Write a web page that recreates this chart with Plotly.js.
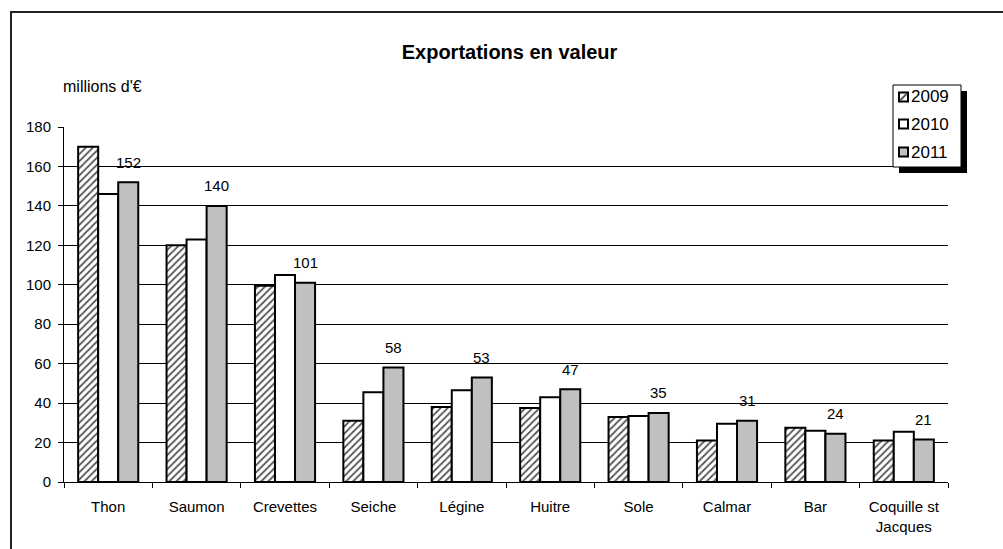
<!DOCTYPE html>
<html>
<head>
<meta charset="utf-8">
<script src="https://cdn.plot.ly/plotly-3.0.1.min.js"></script>
<style>
html,body{margin:0;padding:0;background:#fff;}
#wrap{position:relative;width:1003px;height:549px;overflow:hidden;}
#chart{position:absolute;left:0;top:0;width:1003px;height:549px;}
#frame{position:absolute;left:10px;top:11px;width:1100px;height:700px;border-left:2px solid #222;border-top:2px solid #222;pointer-events:none;}
</style>
</head>
<body>
<div id="wrap"><div id="chart"></div><div id="frame"></div></div>
<script>
const categories = ["Thon","Saumon","Crevettes","Seiche","Légine","Huitre","Sole","Calmar","Bar","Coquille st<br>Jacques"];
const years = ["2009","2010","2011"];
const v2009 = [170, 120, 99.5, 31, 38, 37.5, 33, 21, 27.5, 21];
const v2010 = [146, 123, 105, 45.5, 46.5, 43, 33.5, 29.5, 26, 25.5];
const v2011 = [152, 140, 101, 58, 53, 47, 35, 31, 24.5, 21.5];
const labels2011 = ["152","140","101","58","53","47","35","31","24","21"];
const yTicks = [0,20,40,60,80,100,120,140,160,180];

const FONT = "Liberation Sans, Arial, sans-serif";
const M = {l:64, r:55, t:127, b:67};
const W = 1003, H = 549;
const pw = W - M.l - M.r, ph = H - M.t - M.b;
const px = x => (x - M.l) / pw;
const py = y => (H - M.b - y) / ph;

const line = {color:"#000", width:2};
const traces = [
  {type:"bar", name:years[0], x:categories, y:v2009,
   marker:{color:"#ffffff", line:line, pattern:{shape:"/", fgcolor:"#555", bgcolor:"#fff", size:5, solidity:0.35}}},
  {type:"bar", name:years[1], x:categories, y:v2010,
   marker:{color:"#ffffff", line:line}},
  {type:"bar", name:years[2], x:categories, y:v2011,
   marker:{color:"#c0c0c0", line:line}}
];

const annotations = categories.map((c,i) => ({
  x:c, y:v2011[i], xref:"x", yref:"y", text:labels2011[i], showarrow:false,
  xshift:20, yshift:20, yanchor:"middle", font:{family:FONT, size:15, color:"#000"}
}));
annotations.push({xref:"paper", yref:"paper", x:px(61), y:py(87), xanchor:"left", yanchor:"middle",
  text:"millions d'€", showarrow:false, font:{family:FONT, size:16, color:"#000"}});

// custom legend
const shapes = [];
const lgL = 893, lgT = 85, lgR = 961, lgB = 167, sh = 6;
shapes.push({type:"rect", xref:"paper", yref:"paper", x0:px(lgL+sh), x1:px(lgR+sh), y0:py(lgB+sh), y1:py(lgT+sh), fillcolor:"#000", line:{width:0}, layer:"above"});
shapes.push({type:"rect", xref:"paper", yref:"paper", x0:px(lgL), x1:px(lgR), y0:py(lgB), y1:py(lgT), fillcolor:"#fff", line:{color:"#000", width:1}, layer:"above"});
const rowsY = [97, 124, 152];
const swFill = ["#777", "#fff", "#c0c0c0"];
years.forEach((yr,i) => {
  const cy = rowsY[i];
  shapes.push({type:"rect", xref:"paper", yref:"paper", x0:px(899), x1:px(908), y0:py(cy+4.5), y1:py(cy-4.5),
    fillcolor: i===0 ? "#fff" : swFill[i], line:{color:"#000", width:2}, layer:"above"});
  if (i===0) {
    shapes.push({type:"line", xref:"paper", yref:"paper", x0:px(900), x1:px(907), y0:py(cy+3.5), y1:py(cy-3.5), line:{color:"#555", width:2}, layer:"above"});
  }
  annotations.push({xref:"paper", yref:"paper", x:px(909), y:py(cy), xanchor:"left", yanchor:"middle",
    text:yr, showarrow:false, font:{family:FONT, size:17, color:"#000"}});
});

const layout = {
  width:W, height:H, margin:M,
  paper_bgcolor:"#fff", plot_bgcolor:"#fff",
  showlegend:false,
  barmode:"group", bargap:0.32, bargroupgap:0,
  title:{text:"<b>Exportations en valeur</b>", x:0.508, xanchor:"center", y:1-52/H, yanchor:"middle",
    font:{family:FONT, size:20, color:"#000"}},
  font:{family:FONT, size:15, color:"#000"},
  xaxis:{type:"category", showline:true, linecolor:"#000", linewidth:1, ticks:"outside", tickson:"boundaries",
    ticklen:5, tickcolor:"#000", showgrid:false, tickfont:{family:FONT, size:15, color:"#000"}, ticklabelstandoff:11},
  yaxis:{range:[0,180], tickvals:yTicks, showline:true, linecolor:"#000", linewidth:1, ticks:"outside", ticklen:5,
    tickcolor:"#000", showgrid:true, gridcolor:"#000", gridwidth:1, zeroline:false,
    tickfont:{family:FONT, size:15, color:"#000"}, ticklabelstandoff:4},
  annotations:annotations,
  shapes:shapes
};
Plotly.newPlot("chart", traces, layout, {displayModeBar:false, staticPlot:true});
</script>
</body>
</html>
